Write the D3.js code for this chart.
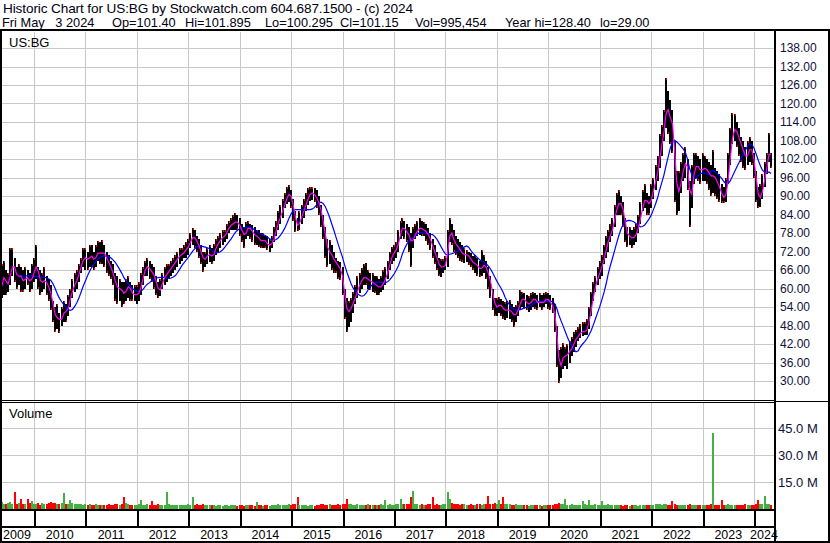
<!DOCTYPE html>
<html><head><meta charset="utf-8">
<script src="https://cdn.jsdelivr.net/npm/d3@7"></script>
<style>
html,body{margin:0;padding:0;background:#fff;}
svg{display:block;font-family:"Liberation Sans",Arial,sans-serif;}
</style></head><body>
<svg id="c" width="830" height="543"></svg>
<script>
// ---- DATA (semi-monthly, May 2009 .. May 2024) ----
const closes = [
58,63,64,61,62,66,68,66,63,65,63,62,64,63,62,64,
66,68,63,62,62,63,61,60,57,53,50,51,49,51,53,52,55,58,60,62,63,66,68,70,
70,69,71,70,69,71,72,71,72,71,69,68,66,64,61,60,60,59,58,60,61,59,58,58,
58,59,62,65,67,67,66,65,64,61,59,60,63,64,65,66,67,68,69,70,71,71,72,73,
74,76,77,76,75,73,71,69,70,71,71,70,72,74,75,76,77,77,79,80,81,81,82,81,
80,78,77,79,80,79,78,77,77,76,75,76,75,74,74,75,77,80,82,84,86,88,90,91,
89,85,81,80,82,84,86,88,90,91,91,90,89,87,84,80,75,72,72,70,69,68,67,66,
62,55,52,53,54,56,58,60,62,63,64,63,63,62,62,61,61,60,61,62,64,66,69,71,
72,73,76,79,80,79,78,77,74,77,78,79,80,79,79,78,77,75,73,71,69,67,67,67,
68,75,79,77,75,74,73,72,71,71,71,70,69,68,68,67,66,67,68,66,64,61,57,54,
54,55,54,53,53,53,53,52,51,52,54,56,57,56,55,55,56,57,56,55,56,55,56,57,
56,55,54,50,42,33,37,38,38,39,40,41,43,44,45,46,46,46,47,51,55,59,62,64,
66,68,71,74,76,78,80,84,87,88,87,84,79,77,77,76,77,78,81,84,88,89,88,87,
90,93,96,99,104,108,113,120,116,115,112,98,91,92,96,100,101,98,86,95,99,100,99,98,
99,99,98,97,96,97,95,94,92,90,89,92,98,106,111,112,110,108,106,104,102,104,106,104,
100,92,89,90,93,97,101,106,101.15];
const highs = [
62,68,69,66,65,73,73,70,67,68,67,66,67,66,65,68,
70,74,67,66,65,67,64,63,61,56,54,55,52,54,56,55,58,60,63,65,66,68,70,73,
73,72,74,74,72,74,75.5,75,75.7,74,72,71,69,68,65,64,63,62,62,63,64,62,61,61,
61,62,65,67,69,70,69,68,67,64,62,63,65,67,68,68,69,70,71,72,73,73,74,75,
76,78,79.6,79,77,76,74,72,72,73,74,73,74.5,76,77,78,79,79,81,82,83,84,84.5,84,
83,81,80,81.5,82,81,80.5,80,79,79,78,78,77,77,76,77,80,82,85,87,89,91,93,93.5,
92,89,85,83,85,87,89,91,92.5,93,93,92.5,92,90,87,84,80,76,75.7,74,72,70,69,68.5,
67,60,57,56,57,59,61,64,65,66.5,68,68.3,66,65,65,64,64,63,64,66,67,69,72,73.5,
74,75,79,82,83,82,81,80,78,80,81,82,83,82,81.5,81,79.5,78,76,74,72,70,69.5,69.5,
70.5,79,83,81,79,77,76,75,74,73,72.5,72,71.5,70.5,71,70,69,72.5,71,69,67,64,60,57,
57,57.2,56.5,56,55.5,56,56.3,55,54,54.5,56,59.5,59,58.5,58,57.5,58.5,59,58.5,58,58.5,58,58.5,59,
58.5,58,57,55,48,40,41,42.3,41,42,43,44.3,46,46.5,47.5,48.5,49,49,50,54,59,62,64,67,
69,71,74,77,79,81,83,87,91,92,90,88,83,80,80,79,80,81,84,88,92,94,91,90,
94,96,100,103,110,113,118,128.4,124,121,118,108,98,98,101,104,106,102,95,100,104,104,103,102,
104,103,102,101,100,105,99,98,97,94,93,96,104,112,117,116.5,114,112,109,108,106,108,109,108,
104,98,93,94,97,101,104,110.4,104];
const lows = [
52,57,58,58,59,61,64,62,60,61,59,59,60,61,59,60,
62,63,60,58,59,60,58,56,53,49,46,47,45.5,48,49,49,51,54,57,59,60,62,65,67,
66,66,67,67,66,67,69,68,68,67,65,64,63,61,56,55,56,54,55,56,57,56,56,56,
55,56,58,61,64,64,63,62,60,58,57,57.5,60,61,62,63,64,65,66,67,68,69,70,70,
71,73,74,73,72,70,68,65.3,67,68,68.5,68,69,71,72,73,74,75,76,78,79,79,79,79,
77,75,73,76,77,76,75,74,74,73.5,73,73,73,72.5,72,73,75,77,79,81,83,86,87.5,88,
86,82,78.3,78.5,79,81,83,85,87,88.5,88.7,88,86,84,80,76,70,67,68,66,65,65,63,62.7,
58,50,46,47.5,49,52,55,57,58.5,60,61,61,60,59.5,59,58.5,58,58,59,59.5,61,63,66,68,
69,70,72,76,77,76,75,72,67,73,76,77,77.5,77,77,75.5,74,72.5,70,68,66,64,63.7,65,
66,67,75,74,72,71,70,69,68.6,68.3,68.5,67.5,67,66,65,64,63.7,64,65,63,60,57,53,51,
51,52,51,50,49.8,50.5,50,49,47.5,49,51,53,54,53.5,53,52.5,53,54,53.5,53,54,53,54,55,
53.5,53,52,46,34.5,29.4,31,34,35,34,36,38,39.5,41,43,44,44.5,45,45,47,51,56,59,61,
63,64,68,70,72,75,77,80,84,84,84,80,75,73.5,74,73,74,75,78,81,85,86,84,84,
86,89,92,95,99,103,108,112,110,107,104,88,84,85,91,95,96,92,80,86,94,96,95,94,
95,95,94,92,90,91,90,89,88,87.7,87.7,88,94,100,107,108,106,103,101,99,98.4,100,101,100,
96,88,86,86.5,89,93,97,101,99];
const volumes = [ // millions
3.2,3.8,3.0,2.6,3.4,4.0,2.8,9.5,3.0,3.5,5.8,3.0,2.6,5.8,3.2,4.3,
3.0,2.8,3.6,2.5,3.2,2.6,3.0,3.4,4.0,3.2,3.6,3.0,2.8,3.4,8.8,3.0,2.6,5.0,3.2,2.8,3.0,2.6,3.0,2.4,
2.6,2.2,2.8,2.4,2.0,2.6,2.2,2.0,2.4,2.2,2.0,2.6,2.2,2.4,3.0,2.6,2.2,2.8,6.6,3.2,2.6,2.2,2.4,2.0,
2.2,2.6,5.0,2.4,2.2,2.6,2.0,4.7,2.4,2.2,2.6,2.0,2.4,2.2,9.5,2.6,2.2,2.0,2.4,2.2,2.0,2.4,2.2,2.0,
2.6,2.2,6.6,2.4,2.8,2.2,2.4,2.6,2.0,2.2,2.4,2.0,2.2,1.8,2.0,2.2,1.8,2.0,2.2,1.8,2.0,2.2,2.0,1.8,
2.2,2.0,1.8,2.2,2.0,2.4,2.0,1.8,3.9,2.2,2.0,1.8,2.4,2.0,1.8,2.2,2.0,2.4,2.6,2.0,2.2,2.4,2.2,2.6,
2.4,2.8,2.6,6.6,2.2,2.0,2.4,2.2,1.8,2.0,2.2,1.8,2.2,2.0,2.6,2.8,2.4,2.2,2.6,2.0,2.4,2.2,2.6,2.4,
2.6,2.8,5.8,3.0,2.6,2.2,2.4,2.6,2.2,2.0,2.4,2.2,2.6,2.0,2.2,2.4,2.0,2.2,2.6,2.4,4.8,2.2,2.6,2.4,
2.4,2.6,3.0,5.6,2.8,2.6,3.0,3.0,6.6,10.0,2.8,2.6,2.4,2.6,2.2,2.4,2.6,2.8,6.6,2.4,2.6,2.2,2.4,2.6,
3.0,9.5,5.8,3.2,2.8,3.0,2.6,2.4,2.8,2.6,2.4,2.2,2.6,2.4,2.2,2.8,2.6,2.4,3.0,2.8,7.5,3.0,2.8,3.2,
2.6,4.8,3.0,6.6,2.8,2.6,3.0,2.4,2.2,2.6,2.4,2.0,2.2,2.4,2.0,1.8,2.2,2.0,2.4,2.2,2.0,1.8,2.2,2.0,
2.0,2.2,2.4,2.6,3.0,3.4,2.8,2.6,5.8,2.4,2.2,2.6,2.4,2.2,2.0,2.4,4.7,2.6,2.2,4.8,2.4,2.2,2.6,2.4,
2.2,4.7,2.4,2.2,2.6,2.0,2.4,2.2,2.0,2.4,2.2,1.8,2.0,2.2,1.8,2.0,2.2,2.0,1.8,2.2,2.0,2.4,2.2,2.0,
2.2,2.4,2.6,2.8,2.6,2.4,2.8,2.6,2.4,2.2,4.3,2.6,2.4,2.2,2.4,2.0,2.2,2.4,2.6,2.2,2.0,2.4,2.2,2.0,
2.2,2.0,2.4,2.2,2.6,42.0,2.4,2.2,2.0,4.8,2.2,2.4,2.6,2.4,2.2,2.0,2.2,2.4,2.0,2.2,2.6,2.4,2.2,2.0,
2.4,2.6,4.8,2.8,2.6,7.2,3.0,2.6,2.4];
const priceTicks = [30,36,42,48,54,60,66,72,78,84,90,96,102,108,114,120,126,132,138];
const volumeTicks = [15,30,45];
const yearLabels = [2009,2010,2011,2012,2013,2014,2015,2016,2017,2018,2019,2020,2021,2022,2023,2024];
const headerTitle = "Historic Chart for US:BG by Stockwatch.com 604.687.1500 - (c) 2024";
const headerFields = ["Fri May   3 2024","Op=101.40","Hi=101.895","Lo=100.295","Cl=101.15","Vol=995,454","Year hi=128.40","lo=29.00"];
const symbolLabel = "US:BG";
const volumeLabel = "Volume";

// ---- LAYOUT ----
const svg = d3.select("#c");
const L = 2, R = 774;
const dates = closes.map((_, i) => new Date(2009, 4 + Math.floor(i / 2), i % 2 ? 16 : 1));
const x = d3.scaleTime().domain([new Date(2010,0,1), new Date(2024,0,1)]).range([34, 754]);
const y = d3.scaleLinear().domain([30,138]).range([381,48]);
const v = d3.scaleLinear().domain([0,45]).range([509,428]);
const axisColor = "#10103c";

svg.append("rect").attr("width",830).attr("height",543).attr("fill","#fff");

// gridlines
const grid = svg.append("g").attr("stroke","#c8c8c8").attr("shape-rendering","crispEdges");
grid.selectAll("line.hp").data(priceTicks).join("line")
  .attr("x1",L).attr("x2",R).attr("y1",d=>Math.round(y(d))+0.5).attr("y2",d=>Math.round(y(d))+0.5);
grid.selectAll("line.hv").data(volumeTicks).join("line")
  .attr("x1",L).attr("x2",R).attr("y1",d=>Math.round(v(d))+0.5).attr("y2",d=>Math.round(v(d))+0.5);
const yearBounds = yearLabels.slice(1).map(yr => new Date(yr,0,1));
grid.selectAll("line.vp").data(yearBounds).join("line")
  .attr("x1",d=>Math.round(x(d))+0.5).attr("x2",d=>Math.round(x(d))+0.5).attr("y1",32).attr("y2",400);
grid.selectAll("line.vv").data(yearBounds).join("line")
  .attr("x1",d=>Math.round(x(d))+0.5).attr("x2",d=>Math.round(x(d))+0.5).attr("y1",403).attr("y2",509);

// clip
svg.append("clipPath").attr("id","pc").append("rect").attr("x",L).attr("y",32).attr("width",R-L).attr("height",367);
svg.append("clipPath").attr("id","vc").append("rect").attr("x",L).attr("y",403).attr("width",R-L).attr("height",106);

const idx = d3.range(closes.length);
// price bars
const pg = svg.append("g").attr("clip-path","url(#pc)").attr("shape-rendering","crispEdges");
pg.selectAll("rect.bar").data(idx).join("rect")
  .attr("x",i=>Math.round(x(dates[i])-1)).attr("width",2)
  .attr("y",i=>y(highs[i])).attr("height",i=>Math.max(1,y(lows[i])-y(highs[i])))
  .attr("fill","#000");
// red ticks at the bar extreme in the direction of the move
pg.selectAll("rect.cl").data(idx.slice(1)).join("rect")
  .attr("x",i=>Math.round(x(dates[i]))).attr("width",1)
  .attr("y",i=> closes[i] < closes[i-1] ? y(lows[i])-2 : y(highs[i]))
  .attr("height",2)
  .attr("fill","#ff0000");

function sma(n){ return closes.map((_,i)=> i<n-1 ? null : d3.mean(closes.slice(i-n+1,i+1))); }
const maShort = sma(2), maLong = sma(10);
const lineGen = d3.line().defined(d=>d[1]!=null).x(d=>x(d[0])).y(d=>y(d[1]));
const lg = svg.append("g").attr("clip-path","url(#pc)").attr("fill","none");
lg.append("path").attr("d",lineGen(dates.map((d,i)=>[d,maLong[i]]))).attr("stroke","#0000ff").attr("stroke-width",1.2);
lg.append("path").attr("d",lineGen(dates.map((d,i)=>[d,maShort[i]]))).attr("stroke","#ff00ff").attr("stroke-width",1.2);

// volume bars
const vg = svg.append("g").attr("clip-path","url(#vc)").attr("shape-rendering","crispEdges");
vg.selectAll("rect").data(idx).join("rect")
  .attr("x",i=>Math.round(x(dates[i])-1)).attr("width",2)
  .attr("y",i=>v(volumes[i])).attr("height",i=>509-v(volumes[i]))
  .attr("fill",i=> (i===0 || closes[i]>=closes[i-1]) ? "#44b044" : "#ff0000");

// frame
const fr = svg.append("g").attr("fill","#000").attr("shape-rendering","crispEdges");
fr.append("rect").attr("x",0).attr("y",29).attr("width",830).attr("height",2);
fr.append("rect").attr("x",0).attr("y",29).attr("width",2).attr("height",514);
fr.append("rect").attr("x",R).attr("y",29).attr("width",2).attr("height",514);
fr.append("rect").attr("x",828).attr("y",29).attr("width",2).attr("height",514);
fr.append("rect").attr("x",0).attr("y",400).attr("width",R+2).attr("height",1);
fr.append("rect").attr("x",0).attr("y",402).attr("width",R+2).attr("height",1);
fr.append("rect").attr("x",R).attr("y",401).attr("width",56).attr("height",1);
fr.append("rect").attr("x",0).attr("y",509).attr("width",R+2).attr("height",2);
fr.append("rect").attr("x",0).attr("y",526).attr("width",R+2).attr("height",2);
fr.append("rect").attr("x",0).attr("y",541).attr("width",830).attr("height",2);
fr.selectAll("rect.tk").data(yearBounds).join("rect")
  .attr("x",d=>Math.round(x(d))).attr("y",511).attr("width",1.5).attr("height",15);

// axes
const ya = svg.append("g").attr("transform","translate(780,0)")
  .call(d3.axisRight(y).tickValues(priceTicks).tickFormat(d3.format(".2f")).tickSize(0).tickPadding(0));
ya.select(".domain").remove();
ya.attr("font-family",null).attr("font-size",12);
ya.selectAll("text").attr("fill",axisColor);

const va = svg.append("g").attr("transform","translate(778,0)")
  .call(d3.axisRight(v).tickValues(volumeTicks).tickFormat(d=>d.toFixed(1)+" M").tickSize(0).tickPadding(0));
va.select(".domain").remove();
va.attr("font-family",null).attr("font-size",13);
va.selectAll("text").attr("fill",axisColor);

// year labels centred in their cells
svg.append("g").attr("font-size",12.5).attr("fill","#000").attr("text-anchor","middle")
  .selectAll("text").data(yearLabels).join("text")
  .attr("x",yr=>{ const a=Math.max(0,x(new Date(yr,0,1))), b=Math.min(R,x(new Date(yr+1,0,1))); return (a+b)/2; })
  .attr("y",539).text(yr=>yr);

// header & labels
svg.append("text").attr("x",3).attr("y",13).attr("font-size",13.6).attr("fill","#000010")
  .attr("textLength",410).attr("lengthAdjust","spacing").text(headerTitle);
const fieldX = [2,112,185,265,340,415,505,600];
svg.append("g").attr("font-size",12.8).attr("fill","#000010")
  .selectAll("text").data(headerFields).join("text")
  .attr("x",(d,i)=>fieldX[i]).attr("y",27).attr("xml:space","preserve").style("white-space","pre").text(d=>d);
svg.append("text").attr("x",9).attr("y",47).attr("font-size",13).attr("fill","#000").text(symbolLabel);
svg.append("text").attr("x",9).attr("y",418).attr("font-size",13).attr("fill","#000").text(volumeLabel);
</script>
</body></html>
